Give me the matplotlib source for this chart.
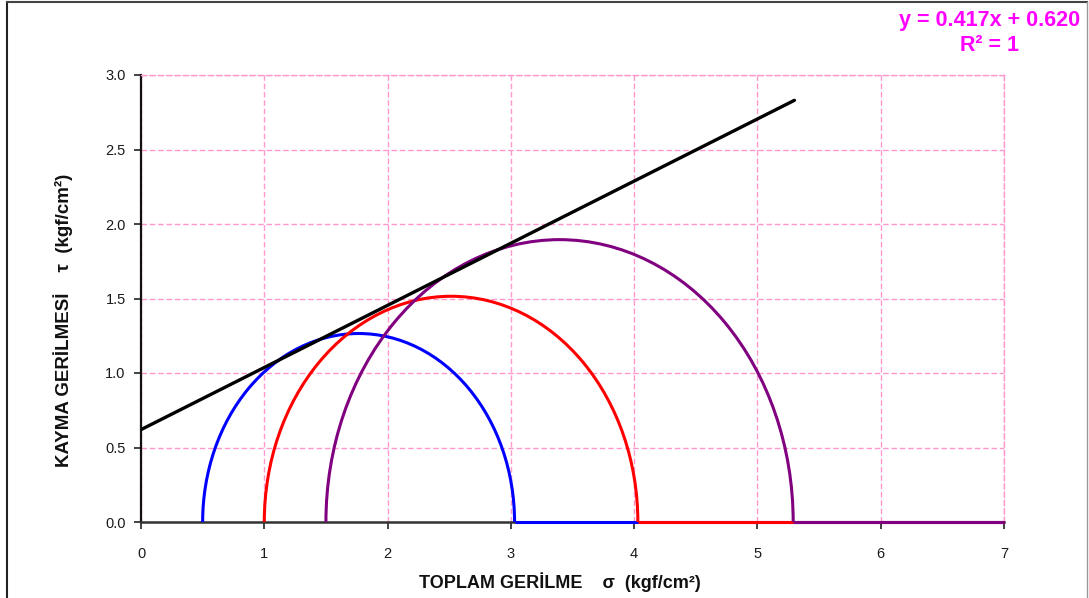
import matplotlib
matplotlib.use("Agg")
import matplotlib.pyplot as plt
from matplotlib.patches import Arc
from matplotlib.lines import Line2D

plt.rcParams['font.family'] = ['Liberation Sans', 'DejaVu Sans']

# Mohr circle data (kgf/cm²)
sigma3 = [0.50, 1.00, 1.50]
sigma1 = [3.03, 4.03, 5.29]
circle_colors = ['#0000FF', '#FF0000', '#800080']
x_end = 7.0

# Failure envelope (trendline)
slope = 0.417
intercept = 0.620
env_x = [0.0, 5.30]

xticks = [0, 1, 2, 3, 4, 5, 6, 7]
yticks = [0.0, 0.5, 1.0, 1.5, 2.0, 2.5, 3.0]
ytick_labels = ['0.0', '0.5', '1.0', '1.5', '2.0', '2.5', '3.0']

fig = plt.figure(figsize=(10.89, 5.98), dpi=100)
ax = fig.add_axes([141/1089, 76/598, (1004-141)/1089, (522-75)/598])
ax.set_xlim(0, 7)
ax.set_ylim(0, 3.0)

grid_color = '#FF99CC'
ax.set_xticks(xticks)
ax.set_yticks(yticks)
ax.set_yticklabels(ytick_labels)
ax.grid(True, color=grid_color, linestyle=(0, (4, 2)), linewidth=1.0, zorder=0)
for side in ['top', 'right']:
    ax.spines[side].set_visible(True)
    ax.spines[side].set_color(grid_color)
    ax.spines[side].set_linestyle((0, (4, 2)))
    ax.spines[side].set_linewidth(1.0)
ax.spines['left'].set_color('#111111')
ax.spines['left'].set_linewidth(1.6)
ax.spines['bottom'].set_color('#333333')
ax.spines['bottom'].set_linewidth(1.8)

ax.tick_params(axis='x', direction='out', length=5, width=1.2, pad=13,
               labelsize=10.5, labelcolor='#1a1a1a', colors='#222222')
ax.tick_params(axis='y', direction='out', length=5, width=1.2, pad=6,
               labelsize=10.5, labelcolor='#1a1a1a', colors='#222222')

# Mohr circles (semicircles) + zero-line continuation
for i, (s3, s1, col) in enumerate(zip(sigma3, sigma1, circle_colors)):
    c = (s1 + s3) / 2.0
    r = (s1 - s3) / 2.0
    arc = Arc((c, 0), 2 * r, 2 * r, theta1=0, theta2=180, color=col,
              linewidth=2.2, zorder=3 + i)
    ax.add_patch(arc)
    ax.plot([s1, x_end], [0, 0], color=col, linewidth=2.2, zorder=3 + i,
            solid_capstyle='butt', clip_on=False)

# Envelope line
env_y = [slope * x + intercept for x in env_x]
ax.plot(env_x, env_y, color='black', linewidth=2.4, zorder=10,
        solid_capstyle='round')

ax.set_xlabel('TOPLAM GERİLME    σ  (kgf/cm²)', fontsize=13, fontweight='bold',
              color='#111111')
ax.xaxis.set_label_coords((560-141)/(1004-141), -0.112)
ax.set_ylabel('KAYMA GERİLMESİ    τ  (kgf/cm²)', fontsize=13.5, fontweight='bold',
              color='#111111')
ax.yaxis.set_label_coords((73-141)/(1004-141), (522-320)/(522-75))

fig.text(990/1089, 1 - 33/598, 'y = 0.417x + 0.620\nR² = 1', ha='center',
         va='center', color='#FF00FF', fontsize=15.5, fontweight='bold',
         linespacing=1.3)

# Outer chart border
fig.add_artist(Line2D([7/1089, 7/1089], [0, 1 - 2/598], color='#222222',
                      linewidth=1.5, transform=fig.transFigure))
fig.add_artist(Line2D([7/1089, 1087/1089], [1 - 2/598, 1 - 2/598],
                      color='#444444', linewidth=1.5, transform=fig.transFigure))
fig.add_artist(Line2D([1087/1089, 1087/1089], [0, 1 - 2/598], color='#999999',
                      linewidth=1.0, transform=fig.transFigure))

fig.savefig('out.png', dpi=100)
